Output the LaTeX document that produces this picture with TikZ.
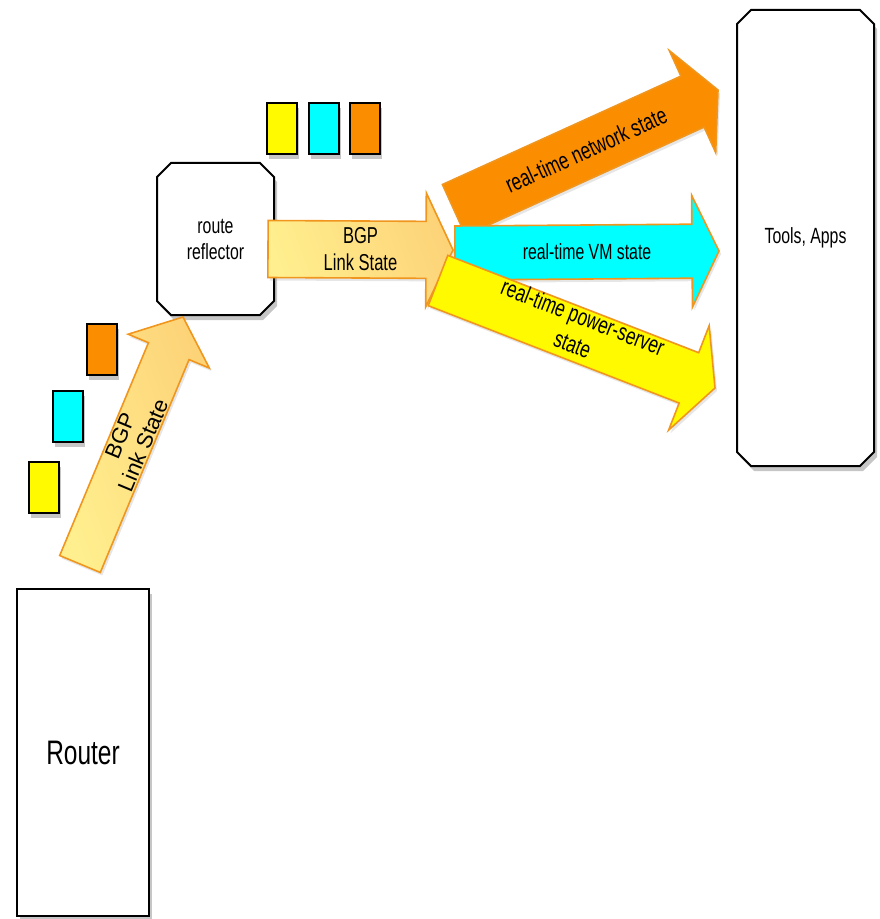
\documentclass[tikz,border=0pt]{standalone}
\usepackage{fontspec}
\setmainfont{Liberation Sans}[FakeStretch=0.72]
\newfontfamily\plainsans{Liberation Sans}
\usetikzlibrary{calc,shapes.misc,shadows}

\definecolor{netorange}{RGB}{250,141,0}
\definecolor{vmcyan}{RGB}{0,255,255}
\definecolor{pwryellow}{RGB}{255,250,0}
\definecolor{arrowline}{RGB}{240,150,30}
\definecolor{bgplight}{RGB}{255,239,142}
\definecolor{bgpdark}{RGB}{253,211,120}

%% fat arrow: style, tail, tip, half shaft, half head, head length
\newcommand{\fatarrow}[6]{%
  \coordinate (hb) at ($(#3)!#6!(#2)$);
  \draw[#1] ($(#2)!#4!90:(#3)$) -- ($(hb)!#4!-90:(#2)$) -- ($(hb)!#5!-90:(#2)$)
    -- (#3) -- ($(hb)!#5!90:(#2)$) -- ($(hb)!#4!90:(#2)$) -- ($(#2)!#4!-90:(#3)$) -- cycle;
}

\tikzset{
  box/.style={draw, line width=1pt, fill=white, align=center, inner sep=0pt,
    drop shadow={shadow xshift=1.5pt, shadow yshift=-2.5pt, opacity=0.45}},
  chambox/.style={box, chamfered rectangle, chamfered rectangle xsep=3.5pt,
    chamfered rectangle ysep=3.5pt},
  token/.style={draw, line width=1pt, minimum width=15pt, minimum height=25.5pt,
    inner sep=0pt, drop shadow={shadow xshift=1pt, shadow yshift=-2.5pt, opacity=0.45}},
  fat/.style={draw=arrowline, line width=0.8pt,
    drop shadow={shadow xshift=1pt, shadow yshift=-1.5pt, opacity=0.2}},
  bgp/.style={fat, left color=bgplight, right color=bgpdark, shading angle=110},
  lbl/.style={font=\fontsize{12}{14.4}\selectfont, align=center},
}

\begin{document}
\begin{tikzpicture}[x=0.5pt, y=-0.5pt]
  \useasboundingbox (0,0) rectangle (879,919);
  %% Boxes
  \node[box, minimum width=66pt, minimum height=163.5pt,
    font=\fontsize{17}{20}\selectfont] (router) at (83,752.5) {Router};
  \node[chambox, minimum width=58.5pt, minimum height=76pt,
    font=\fontsize{11}{13}\selectfont] (rr) at (215.5,239) {route\\reflector};
  \node[chambox, minimum width=68.5pt, minimum height=228pt,
    font=\fontsize{11}{13}\selectfont] (tools) at (805.5,238) {Tools, Apps};
  %% Tokens
  \node[token, fill=pwryellow] (ty1) at (282,128.5) {};
  \node[token, fill=vmcyan] (tc1) at (324,128.5) {};
  \node[token, fill=netorange] (to1) at (365,128.5) {};
  \node[token, fill=netorange] (to2) at (102,349.5) {};
  \node[token, fill=vmcyan] (tc2) at (68,416.5) {};
  \node[token, fill=pwryellow] (ty2) at (43.5,487.5) {};
  %% Arrow ends
  \coordinate (up-tail) at (80,564);
  \coordinate (up-tip) at (183,317);
  \coordinate (ls-tail) at (268,249);
  \coordinate (ls-tip) at (453,250);
  \coordinate (net-tail) at (454,210);
  \coordinate (net-tip) at (718,90);
  \coordinate (vm-tail) at (455,253);
  \coordinate (vm-tip) at (719,251);
  \coordinate (pwr-tail) at (438,280.5);
  \coordinate (pwr-tip) at (715,388);
  %% Arrows
  \fatarrow{bgp}{up-tail}{up-tip}{11pt}{22pt}{18.5pt}
  \path (up-tail) -- node[sloped, align=center,
    font=\plainsans\fontsize{11}{12.5}\selectfont] {BGP\\Link State} (up-tip);
  \fatarrow{bgp}{ls-tail}{ls-tip}{14.25pt}{28.5pt}{13.5pt}
  \path (ls-tail) -- node[align=center,
    font=\fontsize{11.5}{13.5}\selectfont] {BGP\\Link State} (ls-tip);
  \fatarrow{fat, fill=netorange}{net-tail}{net-tip}{14pt}{28pt}{14pt}
  \path (net-tail) -- node[sloped, lbl] {real-time network state} (net-tip);
  \fatarrow{fat, fill=vmcyan}{vm-tail}{vm-tip}{13.5pt}{28pt}{13.5pt}
  \path (vm-tail) -- node[lbl, font=\fontsize{11}{13}\selectfont] {real-time VM state} (vm-tip);
  \fatarrow{fat, fill=pwryellow}{pwr-tail}{pwr-tip}{13.5pt}{28pt}{14pt}
  \path (pwr-tail) -- node[sloped, lbl, yshift=2pt] {real-time power-server\\state} (pwr-tip);
\end{tikzpicture}
\end{document}
